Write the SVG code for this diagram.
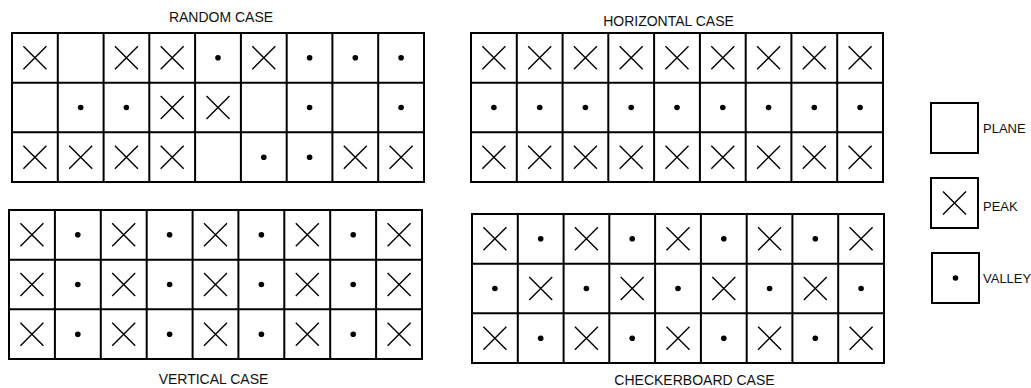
<svg xmlns="http://www.w3.org/2000/svg" xmlns:xlink="http://www.w3.org/1999/xlink" width="1031" height="388" viewBox="0 0 1031 388">
<defs>
<path id="pk" d="M-11.5,-11.5L11.5,11.5M11.5,-11.5L-11.5,11.5" fill="none" stroke="#000" stroke-width="1.4"/>
<circle id="vl" r="2.8" fill="#000"/>
</defs>
<style>
.grid{fill:#fff;stroke:#000;stroke-width:2}
.title{font-family:"Liberation Sans",Arial,sans-serif;font-size:14px;fill:#111;text-anchor:middle}
.leg{font-family:"Liberation Sans",Arial,sans-serif;font-size:13px;fill:#111}
</style>
<rect width="1031" height="388" fill="#fff"/>

<g id="random-case">
<text class="title" x="221" y="22">RANDOM CASE</text>
<rect class="grid" x="12" y="33" width="412" height="149"/>
<path class="grid" d="M57.8,33V182M103.6,33V182M149.3,33V182M195.1,33V182M240.9,33V182M286.7,33V182M332.4,33V182M378.2,33V182M12,82.7H424M12,132.3H424"/>
<use href="#pk" x="34.9" y="57.8"/><use href="#pk" x="126.4" y="57.8"/><use href="#pk" x="172.2" y="57.8"/><use href="#vl" x="218" y="57.8"/><use href="#pk" x="263.8" y="57.8"/><use href="#vl" x="309.6" y="57.8"/><use href="#vl" x="355.3" y="57.8"/><use href="#vl" x="401.1" y="57.8"/>
<use href="#vl" x="80.7" y="107.5"/><use href="#vl" x="126.4" y="107.5"/><use href="#pk" x="172.2" y="107.5"/><use href="#pk" x="218" y="107.5"/><use href="#vl" x="309.6" y="107.5"/><use href="#vl" x="401.1" y="107.5"/>
<use href="#pk" x="34.9" y="157.2"/><use href="#pk" x="80.7" y="157.2"/><use href="#pk" x="126.4" y="157.2"/><use href="#pk" x="172.2" y="157.2"/><use href="#vl" x="263.8" y="157.2"/><use href="#vl" x="309.6" y="157.2"/><use href="#pk" x="355.3" y="157.2"/><use href="#pk" x="401.1" y="157.2"/>
</g>

<g id="horizontal-case">
<text class="title" x="668.5" y="25.5">HORIZONTAL CASE</text>
<rect class="grid" x="471" y="33" width="412" height="149"/>
<path class="grid" d="M516.8,33V182M562.6,33V182M608.3,33V182M654.1,33V182M699.9,33V182M745.7,33V182M791.4,33V182M837.2,33V182M471,82.7H883M471,132.3H883"/>
<use href="#pk" x="493.9" y="57.8"/><use href="#pk" x="539.7" y="57.8"/><use href="#pk" x="585.4" y="57.8"/><use href="#pk" x="631.2" y="57.8"/><use href="#pk" x="677" y="57.8"/><use href="#pk" x="722.8" y="57.8"/><use href="#pk" x="768.6" y="57.8"/><use href="#pk" x="814.3" y="57.8"/><use href="#pk" x="860.1" y="57.8"/>
<use href="#vl" x="493.9" y="107.5"/><use href="#vl" x="539.7" y="107.5"/><use href="#vl" x="585.4" y="107.5"/><use href="#vl" x="631.2" y="107.5"/><use href="#vl" x="677" y="107.5"/><use href="#vl" x="722.8" y="107.5"/><use href="#vl" x="768.6" y="107.5"/><use href="#vl" x="814.3" y="107.5"/><use href="#vl" x="860.1" y="107.5"/>
<use href="#pk" x="493.9" y="157.2"/><use href="#pk" x="539.7" y="157.2"/><use href="#pk" x="585.4" y="157.2"/><use href="#pk" x="631.2" y="157.2"/><use href="#pk" x="677" y="157.2"/><use href="#pk" x="722.8" y="157.2"/><use href="#pk" x="768.6" y="157.2"/><use href="#pk" x="814.3" y="157.2"/><use href="#pk" x="860.1" y="157.2"/>
</g>

<g id="vertical-case">
<rect class="grid" x="9" y="210" width="413" height="149"/>
<path class="grid" d="M54.9,210V359M100.8,210V359M146.7,210V359M192.6,210V359M238.4,210V359M284.3,210V359M330.2,210V359M376.1,210V359M9,259.7H422M9,309.3H422"/>
<use href="#pk" x="31.9" y="234.8"/><use href="#vl" x="77.8" y="234.8"/><use href="#pk" x="123.7" y="234.8"/><use href="#vl" x="169.6" y="234.8"/><use href="#pk" x="215.5" y="234.8"/><use href="#vl" x="261.4" y="234.8"/><use href="#pk" x="307.3" y="234.8"/><use href="#vl" x="353.2" y="234.8"/><use href="#pk" x="399.1" y="234.8"/>
<use href="#pk" x="31.9" y="284.5"/><use href="#vl" x="77.8" y="284.5"/><use href="#pk" x="123.7" y="284.5"/><use href="#vl" x="169.6" y="284.5"/><use href="#pk" x="215.5" y="284.5"/><use href="#vl" x="261.4" y="284.5"/><use href="#pk" x="307.3" y="284.5"/><use href="#vl" x="353.2" y="284.5"/><use href="#pk" x="399.1" y="284.5"/>
<use href="#pk" x="31.9" y="334.2"/><use href="#vl" x="77.8" y="334.2"/><use href="#pk" x="123.7" y="334.2"/><use href="#vl" x="169.6" y="334.2"/><use href="#pk" x="215.5" y="334.2"/><use href="#vl" x="261.4" y="334.2"/><use href="#pk" x="307.3" y="334.2"/><use href="#vl" x="353.2" y="334.2"/><use href="#pk" x="399.1" y="334.2"/>
<text class="title" x="213.5" y="384">VERTICAL CASE</text>
</g>

<g id="checkerboard-case">
<rect class="grid" x="472" y="214" width="412" height="149"/>
<path class="grid" d="M517.8,214V363M563.6,214V363M609.3,214V363M655.1,214V363M700.9,214V363M746.7,214V363M792.4,214V363M838.2,214V363M472,263.7H884M472,313.3H884"/>
<use href="#pk" x="494.9" y="238.8"/><use href="#vl" x="540.7" y="238.8"/><use href="#pk" x="586.4" y="238.8"/><use href="#vl" x="632.2" y="238.8"/><use href="#pk" x="678" y="238.8"/><use href="#vl" x="723.8" y="238.8"/><use href="#pk" x="769.6" y="238.8"/><use href="#vl" x="815.3" y="238.8"/><use href="#pk" x="861.1" y="238.8"/>
<use href="#vl" x="494.9" y="288.5"/><use href="#pk" x="540.7" y="288.5"/><use href="#vl" x="586.4" y="288.5"/><use href="#pk" x="632.2" y="288.5"/><use href="#vl" x="678" y="288.5"/><use href="#pk" x="723.8" y="288.5"/><use href="#vl" x="769.6" y="288.5"/><use href="#pk" x="815.3" y="288.5"/><use href="#vl" x="861.1" y="288.5"/>
<use href="#pk" x="494.9" y="338.2"/><use href="#vl" x="540.7" y="338.2"/><use href="#pk" x="586.4" y="338.2"/><use href="#vl" x="632.2" y="338.2"/><use href="#pk" x="678" y="338.2"/><use href="#vl" x="723.8" y="338.2"/><use href="#pk" x="769.6" y="338.2"/><use href="#vl" x="815.3" y="338.2"/><use href="#pk" x="861.1" y="338.2"/>
<text class="title" x="694.5" y="385">CHECKERBOARD CASE</text>
</g>

<g id="legend-plane">
<rect class="grid" x="931" y="103" width="47" height="50"/>
<text class="leg" x="983" y="133">PLANE</text>
</g>
<g id="legend-peak">
<rect class="grid" x="931" y="178" width="47" height="50"/>
<use href="#pk" x="954.5" y="203"/>
<text class="leg" x="983" y="211">PEAK</text>
</g>
<g id="legend-valley">
<rect class="grid" x="932" y="253" width="47" height="50"/>
<use href="#vl" x="955.5" y="278"/>
<text class="leg" x="983" y="283">VALLEY</text>
</g>
<g id="connectors"/>
</svg>
